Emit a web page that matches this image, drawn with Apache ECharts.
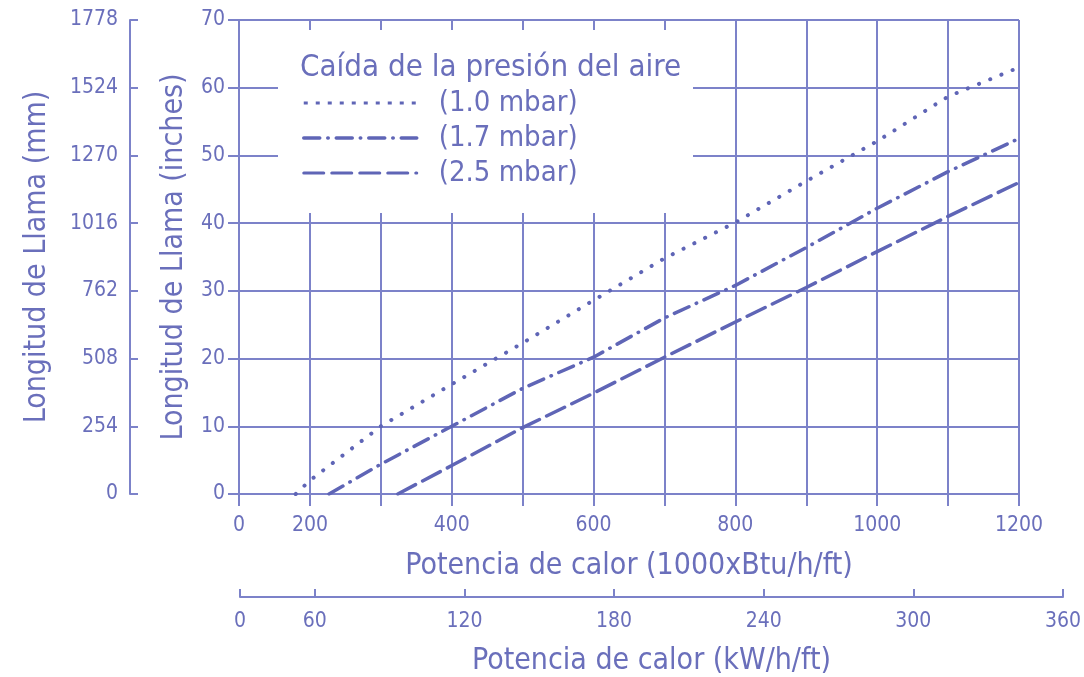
<!DOCTYPE html>
<html><head><meta charset="utf-8">
<script src="https://cdn.jsdelivr.net/npm/echarts@6/dist/echarts.min.js"></script>
<style>html,body{margin:0;padding:0;background:#fff}#c{width:1084px;height:677px}</style>
</head><body><div id="c"></div>
<script>
// ---- data (x: 1000xBtu/h/ft, y: inches) ----
const seriesNames = ['(1.0 mbar)', '(1.7 mbar)', '(2.5 mbar)'];
const data10 = [[180,0],[200,2],[300,10],[400,16.2],[500,22.3],[600,28.6],[700,34.8],[800,40.1],[900,46.2],[1000,52.1],[1100,58.7],[1200,63]];
const data17 = [[227,0],[300,4.4],[400,10],[500,15.6],[600,20.2],[700,26],[800,30.8],[900,36.4],[1000,42.2],[1100,47.6],[1200,52.5]];
const data25 = [[324,0],[400,4.2],[500,9.8],[600,14.9],[700,20.2],[800,25.4],[900,30.5],[1000,35.8],[1100,41],[1200,46]];
// broken axes in the original: first tick (100 / 30) is printed as "0"
const btuLabelValues = [100,200,400,600,800,1000,1200];
const kwLabelValues = [30,60,120,180,240,300,360];
const mmTicks = [0,254,508,762,1016,1270,1524,1778];

const TXT = '#6a6fbb', GRID = '#7c82c9', LINE = '#5f65b6';
const FONT = '"DejaVu Sans Condensed", "DejaVu Sans", sans-serif';

const chart = echarts.init(document.getElementById('c'), null, {renderer: 'canvas'});
const lineCommon = {type: 'line', symbol: 'none', showSymbol: false, xAxisIndex: 0, yAxisIndex: 0, z: 3};
chart.setOption({
  animation: false,
  textStyle: {fontFamily: FONT, color: TXT},
  title: {text: 'Caída de la presión del aire', left: 295, top: 47,
    textStyle: {fontFamily: FONT, fontSize: 31, fontWeight: 'normal', color: TXT}, z: 6},
  legend: {orient: 'vertical', left: 297, top: 83, itemWidth: 113, itemHeight: 14, itemGap: 5,
    data: [
      {name: seriesNames[0], lineStyle: {width: 3, type: [4, 8], cap: 'butt'}},
      {name: seriesNames[1], lineStyle: {width: 3.5}},
      {name: seriesNames[2], lineStyle: {width: 3}}
    ], z: 6,
    itemStyle: {opacity: 0},
    textStyle: {fontFamily: FONT, fontSize: 29, color: TXT, lineHeight: 30, padding: [0,0,0,17]}},
  graphic: [{type: 'rect', z: 1, shape: {x: 278, y: 30, width: 415, height: 183}, style: {fill: '#fff'}}],
  grid: [
    {left: 239, right: 65, top: 20, bottom: 183},
    {left: 240, right: 19, top: 560, bottom: 79}
  ],
  xAxis: [
    {type: 'value', gridIndex: 0, min: 100, max: 1200, interval: 100,
      name: 'Potencia de calor (1000xBtu/h/ft)', nameLocation: 'middle', nameGap: 57,
      nameTextStyle: {fontFamily: FONT, fontSize: 30, color: TXT},
      axisLine: {lineStyle: {color: GRID, width: 2}},
      axisTick: {show: true, length: 12, lineStyle: {color: GRID, width: 2}},
      axisLabel: {customValues: btuLabelValues, margin: 21, fontSize: 21, color: TXT, fontFamily: FONT,
        formatter: v => v === 100 ? '0' : String(v)},
      splitLine: {show: true, lineStyle: {color: GRID, width: 2}}},
    {type: 'value', gridIndex: 1, min: 30, max: 360, interval: 30,
      name: 'Potencia de calor (kW/h/ft)', nameLocation: 'middle', nameGap: 49,
      nameTextStyle: {fontFamily: FONT, fontSize: 30, color: TXT},
      axisLine: {lineStyle: {color: GRID, width: 2}},
      axisTick: {show: true, inside: true, length: 8, customValues: kwLabelValues, lineStyle: {color: GRID, width: 2}},
      axisLabel: {customValues: kwLabelValues, margin: 14, fontSize: 21, color: TXT, fontFamily: FONT,
        formatter: v => v === 30 ? '0' : String(v)},
      splitLine: {show: false}}
  ],
  yAxis: [
    {type: 'value', gridIndex: 0, min: 0, max: 70, interval: 10, position: 'left',
      name: 'Longitud de Llama (inches)', nameLocation: 'middle', nameGap: 50,
      nameTextStyle: {fontFamily: FONT, fontSize: 30, color: TXT},
      axisLine: {show: true, lineStyle: {color: GRID, width: 2}},
      axisTick: {show: true, length: 11, lineStyle: {color: GRID, width: 2}},
      axisLabel: {margin: 14, fontSize: 21, color: TXT, fontFamily: FONT, formatter: v => String(v)},
      splitLine: {show: true, lineStyle: {color: GRID, width: 2}}},
    {type: 'value', gridIndex: 0, min: 0, max: 1778, interval: 254, position: 'left', offset: 109,
      name: 'Longitud de Llama (mm)', nameLocation: 'middle', nameGap: 78,
      nameTextStyle: {fontFamily: FONT, fontSize: 30, color: TXT},
      axisLine: {show: true, lineStyle: {color: GRID, width: 2}},
      axisTick: {show: true, inside: true, length: 8, lineStyle: {color: GRID, width: 2}},
      axisLabel: {margin: 12, fontSize: 21, color: TXT, fontFamily: FONT,
        customValues: mmTicks, formatter: v => String(v)},
      splitLine: {show: false}},
    {type: 'value', gridIndex: 1, show: false, min: 0, max: 1}
  ],
  series: [
    Object.assign({}, lineCommon, {name: seriesNames[0], data: data10,
      lineStyle: {color: LINE, width: 4, type: [0.1, 12], cap: 'round'}, itemStyle: {color: LINE}}),
    Object.assign({}, lineCommon, {name: seriesNames[1], data: data17,
      lineStyle: {color: LINE, width: 3.5, type: [16, 8, 0.5, 8], cap: 'round'}, itemStyle: {color: LINE}}),
    Object.assign({}, lineCommon, {name: seriesNames[2], data: data25,
      lineStyle: {color: LINE, width: 3.5, type: [20, 8], cap: 'round'}, itemStyle: {color: LINE}})
  ]
});
</script></body></html>
